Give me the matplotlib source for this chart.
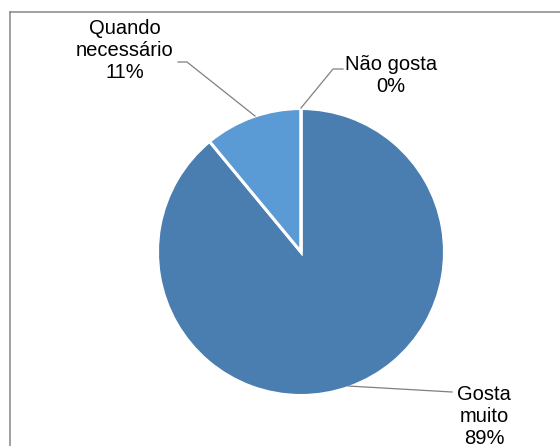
import matplotlib.pyplot as plt
from matplotlib.lines import Line2D

plt.rcParams['font.family'] = ['Liberation Sans', 'DejaVu Sans']

# share of answers
categories = ['Gosta muito', 'Quando necessário', 'Não gosta']
shares = [89, 11, 0]
slice_colors = ['#4a7eb0', '#5b9bd5', '#a5a5a5']

W, H = 560, 446
fig = plt.figure(figsize=(W / 100, H / 100), dpi=100)
ax = fig.add_axes([0, 0, 1, 1])

cx, cy, r = 301, H - 252, 143.5
ax.pie(shares, colors=slice_colors, startangle=90, counterclock=False,
       center=(cx, cy), radius=r,
       wedgeprops=dict(edgecolor='white', linewidth=2.2))
ax.set_xlim(0, W)
ax.set_ylim(0, H)
ax.set_aspect('equal')
ax.axis('off')

# labels with leader lines (positions in pixels, y from top)
label_pos = {
    'Gosta muito': (484, 416),
    'Quando necessário': (125, 51),
    'Não gosta': (391, 75),
}
leaders = {
    'Gosta muito': [(348, 386), (452, 392)],
    'Quando necessário': [(178, 62), (187, 62), (255, 116)],
    'Não gosta': [(301, 108), (333, 69), (343, 69)],
}
label_text = {
    'Gosta muito': 'Gosta\nmuito',
    'Quando necessário': 'Quando\nnecessário',
    'Não gosta': 'Não gosta',
}

for name, val in zip(categories, shares):
    x, y = label_pos[name]
    ax.text(x, H - y, f'{label_text[name]}\n{val}%', ha='center', va='center',
            multialignment='center', fontsize=14.5, color='black',
            linespacing=1.2)
    pts = leaders[name]
    ax.plot([p[0] for p in pts], [H - p[1] for p in pts], color='#808080', lw=0.9)

# chart area border (only left and top edges are inside the image)
fig.add_artist(Line2D([10 / W, 10 / W], [0, 1 - 12 / H], transform=fig.transFigure,
                      color='#868686', lw=1.1))
fig.add_artist(Line2D([10 / W, 1], [1 - 12 / H, 1 - 12 / H], transform=fig.transFigure,
                      color='#868686', lw=1.1))

fig.savefig('out.png', dpi=100)
